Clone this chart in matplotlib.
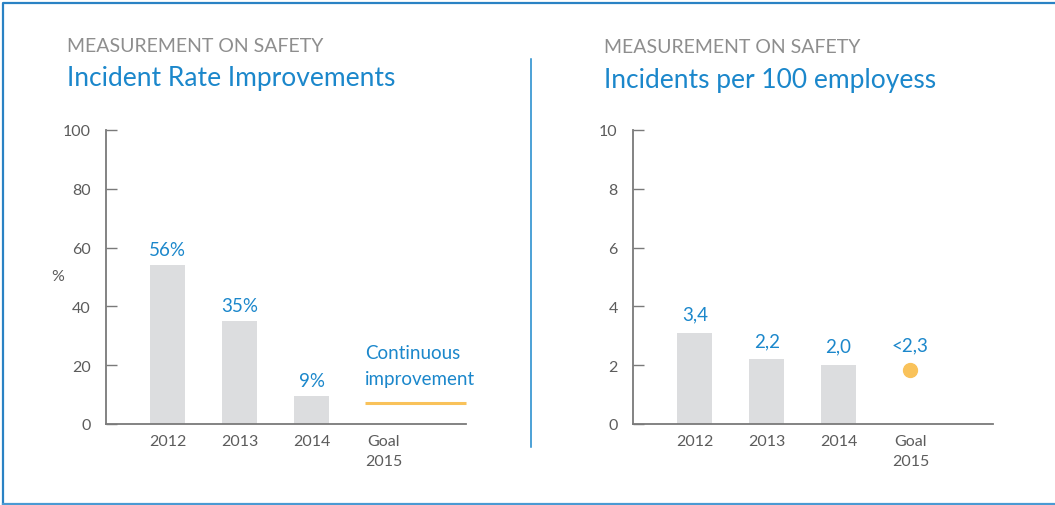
import matplotlib
matplotlib.use("Agg")
import matplotlib.pyplot as plt
from matplotlib.lines import Line2D

plt.rcParams['font.family'] = ['Lato', 'DejaVu Sans']

# ---- data ----
categories = ["2012", "2013", "2014", "Goal\n2015"]
years = ["2012", "2013", "2014"]

rate_values = [54, 35, 9.5]
rate_labels = ["56%", "35%", "9%"]
rate_goal_line = [7]
rate_goal_text = "Continuous\nimprovement"

inc_values = [3.1, 2.2, 2.0]
inc_labels = ["3,4", "2,2", "2,0"]
inc_goal_value = [1.85]
inc_goal_label = "<2,3"

left_yticks = [0, 20, 40, 60, 80, 100]
right_yticks = [0, 2, 4, 6, 8, 10]

# ---- style ----
BLUE = "#1b87cb"
BAR = "#dcdddf"
GOLD = "#f9c25a"
AXIS = "#7a7a7a"
TXT = "#5c5c5c"
SUB = "#8e8e8e"

W, H = 1055, 506
fig = plt.figure(figsize=(W / 100, H / 100), dpi=100)


def px(x0, y0, x1, y1):
    return [x0 / W, 1 - y1 / H, (x1 - x0) / W, (y1 - y0) / H]


def style_axes(ax, yticks, ymax):
    ax.set_ylim(0, ymax)
    ax.set_xlim(-0.86, 4.15)
    for s in ("top", "right"):
        ax.spines[s].set_visible(False)
    for s in ("left", "bottom"):
        ax.spines[s].set_color(AXIS)
        ax.spines[s].set_linewidth(1.3)
    ax.set_yticks(yticks)
    ax.tick_params(axis="y", direction="in", length=8, width=1, color=AXIS,
                   labelsize=11.5, labelcolor=TXT, pad=11)
    ax.set_xticks(range(len(categories)))
    ax.set_xticklabels(categories, linespacing=1.55)
    ax.tick_params(axis="x", length=0, labelsize=11.5, labelcolor=TXT, pad=7)
    for lab in ax.get_xticklabels():
        lab.set_verticalalignment("top")
    ax.patch.set_alpha(0)


# ---- left chart ----
ax1 = fig.add_axes(px(106, 131, 466, 425))
style_axes(ax1, left_yticks, 100)
xs = list(range(len(years)))
bars1 = ax1.bar(xs, rate_values, width=0.49, color=BAR, zorder=2)
for b, lab in zip(bars1, rate_labels):
    ax1.annotate(lab, (b.get_x() + b.get_width() / 2, b.get_height()),
                 xytext=(0, 5), textcoords="offset points", ha="center",
                 va="bottom", color=BLUE, fontsize=13.5)
ax1.plot([2.74, 4.15], [rate_goal_line[0]] * 2, color=GOLD, lw=2.2,
         solid_capstyle="butt", clip_on=False, zorder=3)
ax1.annotate(rate_goal_text, (2.74, rate_goal_line[0]), xytext=(0, 12),
             textcoords="offset points", ha="left", va="bottom",
             color=BLUE, fontsize=13.5, linespacing=1.6)
ax1.set_ylabel("%", rotation=0, color=TXT, fontsize=11.5, va="center",
               ha="center")
ax1.yaxis.set_label_coords(-0.133, 0.505)

# ---- right chart ----
ax2 = fig.add_axes(px(633, 131, 993, 425))
style_axes(ax2, right_yticks, 10)
bars2 = ax2.bar(xs, inc_values, width=0.49, color=BAR, zorder=2)
for b, lab in zip(bars2, inc_labels):
    ax2.annotate(lab, (b.get_x() + b.get_width() / 2, b.get_height()),
                 xytext=(0, 7.5), textcoords="offset points", ha="center",
                 va="bottom", color=BLUE, fontsize=13.5)
ax2.plot([3], inc_goal_value, "o", color=GOLD, markersize=10, zorder=3)
ax2.annotate(inc_goal_label, (3, inc_goal_value[0]), xytext=(0, 12),
             textcoords="offset points", ha="center", va="bottom",
             color=BLUE, fontsize=13.5)

# ---- titles ----
fig.text(67 / W, 1 - 52 / H, "MEASUREMENT ON SAFETY", color=SUB,
         fontsize=14, ha="left", va="baseline")
fig.text(67 / W, 1 - 86 / H, "Incident Rate Improvements", color=BLUE,
         fontsize=19, ha="left", va="baseline")
fig.text(604 / W, 1 - 53 / H, "MEASUREMENT ON SAFETY", color=SUB,
         fontsize=14, ha="left", va="baseline")
fig.text(604 / W, 1 - 88 / H, "Incidents per 100 employess", color=BLUE,
         fontsize=19, ha="left", va="baseline")

# ---- divider and frame ----
fig.add_artist(Line2D([530.5 / W] * 2, [1 - 60 / H, 1 - 448 / H],
                      color=BLUE, lw=1.1))
fig.add_artist(Line2D([3 / W, 3 / W, 1.0], [1 - 504.5 / H, 1 - 3.5 / H, 1 - 3.5 / H],
                      color="#2a82c4", lw=1.6))
fig.add_artist(Line2D([3 / W, 1.0], [1 - 504.5 / H] * 2, color="#4a9ad3", lw=1.6))

fig.savefig("out.png", dpi=100)
